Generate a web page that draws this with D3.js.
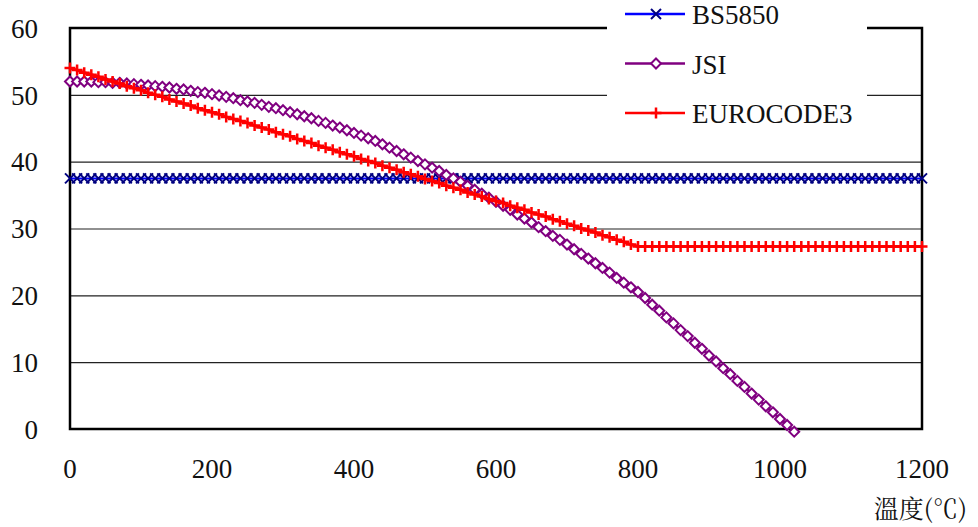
<!DOCTYPE html>
<html>
<head>
<meta charset="utf-8">
<script src="https://cdn.jsdelivr.net/npm/d3@7"></script>
<style>
    body { margin: 0; background: #fff; }
    #chart { width: 978px; height: 527px; }
</style>
</head>
<body>
<div id="chart"></div>
<script>
// Temperature (°C), every 10 degrees
const temps = [
    0, 10, 20, 30, 40, 50, 60, 70, 80, 90,
    100, 110, 120, 130, 140, 150, 160, 170, 180, 190,
    200, 210, 220, 230, 240, 250, 260, 270, 280, 290,
    300, 310, 320, 330, 340, 350, 360, 370, 380, 390,
    400, 410, 420, 430, 440, 450, 460, 470, 480, 490,
    500, 510, 520, 530, 540, 550, 560, 570, 580, 590,
    600, 610, 620, 630, 640, 650, 660, 670, 680, 690,
    700, 710, 720, 730, 740, 750, 760, 770, 780, 790,
    800, 810, 820, 830, 840, 850, 860, 870, 880, 890,
    900, 910, 920, 930, 940, 950, 960, 970, 980, 990,
    1000, 1010, 1020, 1030, 1040, 1050, 1060, 1070, 1080, 1090,
    1100, 1110, 1120, 1130, 1140, 1150, 1160, 1170, 1180, 1190,
    1200
];

const bs5850 = [
    37.5, 37.5, 37.5, 37.5, 37.5, 37.5, 37.5, 37.5, 37.5, 37.5,
    37.5, 37.5, 37.5, 37.5, 37.5, 37.5, 37.5, 37.5, 37.5, 37.5,
    37.5, 37.5, 37.5, 37.5, 37.5, 37.5, 37.5, 37.5, 37.5, 37.5,
    37.5, 37.5, 37.5, 37.5, 37.5, 37.5, 37.5, 37.5, 37.5, 37.5,
    37.5, 37.5, 37.5, 37.5, 37.5, 37.5, 37.5, 37.5, 37.5, 37.5,
    37.5, 37.5, 37.5, 37.5, 37.5, 37.5, 37.5, 37.5, 37.5, 37.5,
    37.5, 37.5, 37.5, 37.5, 37.5, 37.5, 37.5, 37.5, 37.5, 37.5,
    37.5, 37.5, 37.5, 37.5, 37.5, 37.5, 37.5, 37.5, 37.5, 37.5,
    37.5, 37.5, 37.5, 37.5, 37.5, 37.5, 37.5, 37.5, 37.5, 37.5,
    37.5, 37.5, 37.5, 37.5, 37.5, 37.5, 37.5, 37.5, 37.5, 37.5,
    37.5, 37.5, 37.5, 37.5, 37.5, 37.5, 37.5, 37.5, 37.5, 37.5,
    37.5, 37.5, 37.5, 37.5, 37.5, 37.5, 37.5, 37.5, 37.5, 37.5,
    37.5
];

// JSI ends just past zero (0 .. 1020)
const jsi = [
    52.0, 52.0, 52.0, 52.0, 51.9, 51.9, 51.8, 51.8, 51.7, 51.6,
    51.5, 51.4, 51.3, 51.2, 51.1, 50.9, 50.8, 50.6, 50.4, 50.3,
    50.1, 49.9, 49.7, 49.5, 49.2, 49.0, 48.8, 48.5, 48.2, 48.0,
    47.7, 47.4, 47.1, 46.8, 46.5, 46.1, 45.8, 45.4, 45.1, 44.7,
    44.3, 43.9, 43.5, 43.1, 42.6, 42.1, 41.6, 41.1, 40.6, 40.1,
    39.6, 39.1, 38.6, 38.0, 37.5, 37.0, 36.4, 35.8, 35.2, 34.6,
    34.0, 33.4, 32.8, 32.1, 31.5, 30.9, 30.2, 29.6, 28.9, 28.3,
    27.6, 26.9, 26.2, 25.5, 24.8, 24.1, 23.4, 22.6, 21.9, 21.2,
    20.5, 19.6, 18.6, 17.7, 16.7, 15.8, 14.8, 13.9, 12.9, 12.0,
    11.0, 10.1, 9.1, 8.2, 7.2, 6.3, 5.3, 4.4, 3.4, 2.5,
    1.5, 0.6, -0.4
];

const eurocode3 = [
    54.0, 53.7, 53.3, 53.0, 52.7, 52.3, 52.0, 51.7, 51.3, 51.0,
    50.7, 50.3, 50.0, 49.7, 49.3, 49.0, 48.7, 48.4, 48.0, 47.7,
    47.4, 47.1, 46.7, 46.4, 46.1, 45.8, 45.4, 45.1, 44.8, 44.4,
    44.1, 43.8, 43.4, 43.1, 42.8, 42.4, 42.1, 41.8, 41.4, 41.1,
    40.8, 40.4, 40.1, 39.8, 39.4, 39.1, 38.8, 38.4, 38.1, 37.8,
    37.4, 37.1, 36.8, 36.4, 36.1, 35.8, 35.4, 35.1, 34.8, 34.4,
    34.1, 33.8, 33.4, 33.1, 32.8, 32.4, 32.1, 31.8, 31.4, 31.1,
    30.7, 30.4, 30.0, 29.7, 29.4, 29.0, 28.7, 28.3, 28.0, 27.6,
    27.3, 27.3, 27.3, 27.3, 27.3, 27.3, 27.3, 27.3, 27.3, 27.3,
    27.3, 27.3, 27.3, 27.3, 27.3, 27.3, 27.3, 27.3, 27.3, 27.3,
    27.3, 27.3, 27.3, 27.3, 27.3, 27.3, 27.3, 27.3, 27.3, 27.3,
    27.3, 27.3, 27.3, 27.3, 27.3, 27.3, 27.3, 27.3, 27.3, 27.3,
    27.3
];

const seriesNames = ["BS5850", "JSI", "EUROCODE3"];
const xTicks = [0, 200, 400, 600, 800, 1000, 1200];
const yTicks = [0, 10, 20, 30, 40, 50, 60];
const xTitle = "溫度(℃)";

const FONT = '"Liberation Serif", "Times New Roman", serif';

class LineChart {
    constructor(parentElement) {
        this.parentElement = parentElement;
        this.initVis();
    }

    initVis() {
        let vis = this;

        vis.margin = {top: 28, right: 56, bottom: 98, left: 70};
        vis.width = 978 - vis.margin.left - vis.margin.right;
        vis.height = 527 - vis.margin.top - vis.margin.bottom;

        vis.svg = d3.select("#" + vis.parentElement).append("svg")
            .attr("width", 978)
            .attr("height", 527)
            .append("g")
            .attr("transform", `translate(${vis.margin.left}, ${vis.margin.top})`);

        vis.x = d3.scaleLinear().domain([0, 1200]).range([0, vis.width]);
        vis.y = d3.scaleLinear().domain([0, 60]).range([vis.height, 0]);

        // Gridlines
        vis.svg.append("g")
            .attr("class", "grid")
            .call(d3.axisLeft(vis.y).tickValues(yTicks.slice(1, -1)).tickSize(-vis.width).tickFormat(""))
            .call(g => g.select(".domain").remove())
            .call(g => g.selectAll("line").attr("stroke", "#222").attr("stroke-width", 1.2));

        // Tick labels (placed through the scales, serif font)
        vis.svg.selectAll(".y-label")
            .data(yTicks)
            .enter()
            .append("text")
            .attr("class", "y-label")
            .attr("x", -32)
            .attr("y", d => vis.y(d))
            .attr("dy", "0.36em")
            .attr("text-anchor", "end")
            .attr("fill", "#111")
            .style("font-family", FONT)
            .style("font-size", "27px")
            .text(d => d);

        vis.svg.selectAll(".x-label")
            .data(xTicks)
            .enter()
            .append("text")
            .attr("class", "x-label")
            .attr("x", d => vis.x(d))
            .attr("y", vis.height + 49)
            .attr("text-anchor", "middle")
            .attr("fill", "#111")
            .style("font-family", FONT)
            .style("font-size", "27px")
            .text(d => d);

        // Plot frame
        vis.svg.append("rect")
            .attr("width", vis.width)
            .attr("height", vis.height)
            .attr("fill", "none")
            .attr("stroke", "#000")
            .attr("stroke-width", 2.5);

        vis.svg.append("text")
            .attr("x", 897)
            .attr("y", 490)
            .attr("text-anchor", "end")
            .attr("fill", "#111")
            .style("font-family", '"Noto Serif CJK TC", "Liberation Serif", serif')
            .style("font-size", "25px")
            .text(xTitle);

        vis.series = [
            {name: seriesNames[0], values: bs5850, line: "#0000ff", marker: "#000080", shape: "M-5,-5L5,5M5,-5L-5,5", fill: "none", lw: 2, mw: 2},
            {name: seriesNames[1], values: jsi, line: "#800080", marker: "#800080", shape: "M0,-5L5,0L0,5L-5,0Z", fill: "#fff", lw: 2.5, mw: 2},
            {name: seriesNames[2], values: eurocode3, line: "#ff0000", marker: "#ff0000", shape: "M-5.5,0H5.5M0,-5.5V5.5", fill: "none", lw: 3, mw: 2.5}
        ];

        vis.wrangleData();
    }

    wrangleData() {
        let vis = this;

        vis.displayData = vis.series.map(s => ({
            ...s,
            points: s.values.map((v, i) => ({t: temps[i], v: v}))
        }));

        vis.updateVis();
    }

    updateVis() {
        let vis = this;

        let line = d3.line().x(d => vis.x(d.t)).y(d => vis.y(d.v));

        let groups = vis.svg.selectAll(".series")
            .data(vis.displayData)
            .enter()
            .append("g")
            .attr("class", "series");

        groups.append("path")
            .attr("d", d => line(d.points))
            .attr("fill", "none")
            .attr("stroke", d => d.line)
            .attr("stroke-width", d => d.lw);

        groups.each(function (s) {
            d3.select(this).selectAll(".marker")
                .data(s.points)
                .enter()
                .append("path")
                .attr("class", "marker")
                .attr("transform", d => `translate(${vis.x(d.t)}, ${vis.y(d.v)})`)
                .attr("d", s.shape)
                .attr("fill", s.fill)
                .attr("stroke", s.marker)
                .attr("stroke-width", s.mw);
        });

        // Legend (white box over top border)
        let legend = vis.svg.append("g")
            .attr("transform", `translate(${607 - vis.margin.left}, ${-vis.margin.top})`);

        legend.append("rect")
            .attr("width", 260)
            .attr("height", 136)
            .attr("fill", "#fff");

        let items = legend.selectAll(".legend-item")
            .data(vis.displayData)
            .enter()
            .append("g")
            .attr("class", "legend-item")
            .attr("transform", (d, i) => `translate(0, ${14 + i * 49.5})`);

        items.append("line")
            .attr("x1", 18).attr("x2", 78)
            .attr("stroke", d => d.line)
            .attr("stroke-width", 2.5);

        items.append("path")
            .attr("transform", "translate(49, 0)")
            .attr("d", d => d.shape)
            .attr("fill", d => d.fill)
            .attr("stroke", d => d.marker)
            .attr("stroke-width", d => d.mw);

        items.append("text")
            .attr("x", 85)
            .attr("y", 10)
            .attr("fill", "#111")
            .style("font-family", FONT)
            .style("font-size", "27px")
            .text(d => d.name);
    }
}

new LineChart("chart");
</script>
</body>
</html>
